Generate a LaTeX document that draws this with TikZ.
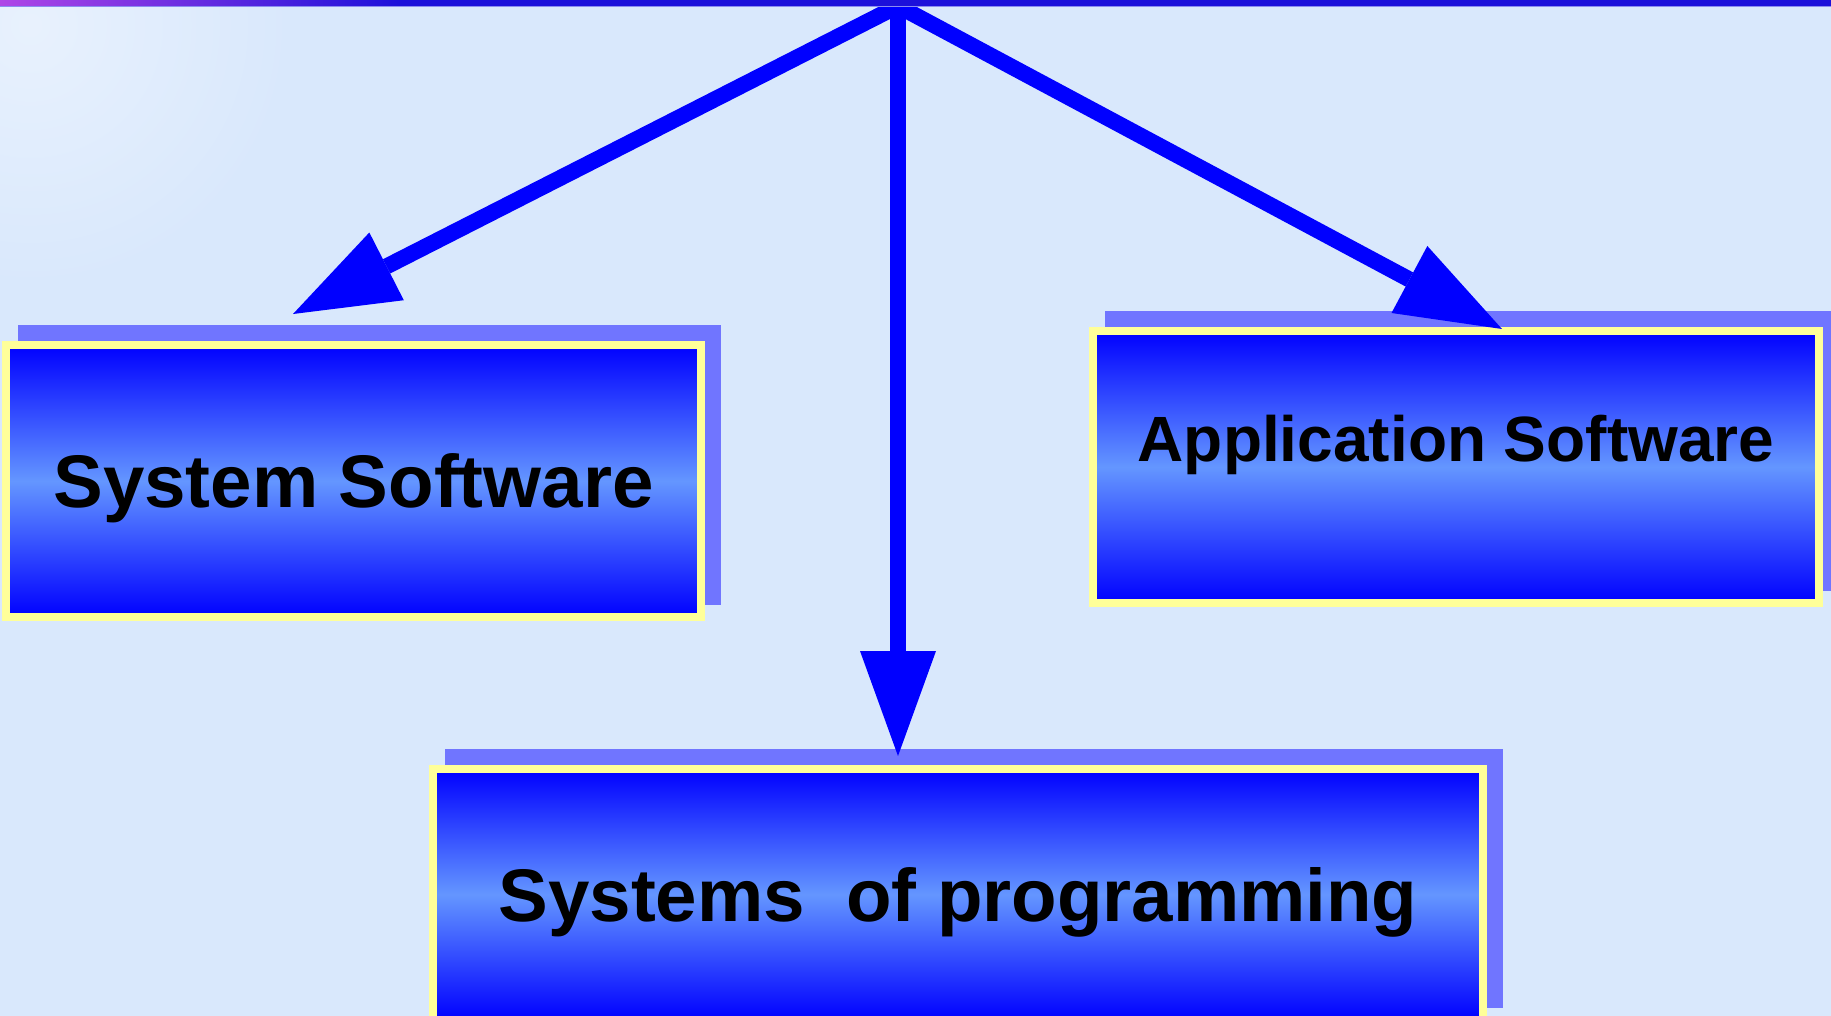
\documentclass[tikz,border=0pt]{standalone}
\usepackage{fontspec}
\setmainfont{Liberation Sans}
\usetikzlibrary{arrows.meta}
\definecolor{bgc}{RGB}{217,232,252}
\definecolor{shadc}{RGB}{112,117,255}
\definecolor{framec}{RGB}{255,255,153}
\definecolor{boxmid}{RGB}{100,150,255}
\definecolor{boxend}{RGB}{0,0,255}
\definecolor{barL}{RGB}{175,70,230}
\definecolor{barR}{RGB}{28,16,218}
\definecolor{barline}{RGB}{140,140,240}
\definecolor{arrc}{RGB}{0,0,255}
\pgfdeclarelayer{back}
\pgfdeclarelayer{shade}
\pgfsetlayers{back,shade,main}
\begin{document}
\begin{tikzpicture}[x=1pt,y=-1pt,
  box/.style={draw=framec, line width=8pt, top color=boxend, bottom color=boxend, middle color=boxmid,
    inner sep=0pt, font=\fontsize{74.5}{80}\selectfont\bfseries, text=black,
    text height=53.4pt, text depth=0pt, align=center},
  shadowbox/.style={fill=shadc},
  conn/.style={draw=arrc, line width=16pt, -{Triangle[length=105pt,width=76pt,line width=0pt]}}
]
\path[use as bounding box] (0,0) rectangle (1831,1016);
\clip (0,0) rectangle (1831,1016);

\begin{pgfonlayer}{back}
  \fill[bgc] (0,0) rectangle (1831,1016);
  \shade[inner color=white!40!bgc, outer color=bgc] (30,25) circle (260pt);
\end{pgfonlayer}

% boxes
\node[box, minimum width=695pt, minimum height=272pt] (sys) at (353.5,481) {System Software};
\node[box, minimum width=726pt, minimum height=272pt,
      font=\fontsize{64}{70}\selectfont\bfseries, text height=45.8pt, text depth=56pt]
      (app) at (1456,467) {Application Software};
\node[box, minimum width=1050pt, minimum height=251pt] (prog) at (958,894.5) {Systems\ \ of programming};

% shadows behind the boxes
\begin{pgfonlayer}{shade}
  \foreach \n in {sys,app,prog}
    \fill[shadowbox] ([shift={(16pt,16pt)}]\n.south west) rectangle ([shift={(16pt,16pt)}]\n.north east);
\end{pgfonlayer}

% connectors
\coordinate (apex) at (898,6);
\coordinate (tipL) at (293,314);
\coordinate (tipR) at (1502,329);
\coordinate (tipM) at (898,756);
\draw[conn] (apex) -- (tipL);
\draw[conn] (apex) -- (tipR);
\draw[conn] (apex) -- (tipM);

% top bar
\shade[left color=barL, right color=barR] (0,0) rectangle (400,6);
\fill[barR] (400,0) rectangle (1831,6);
\fill[barline] (0,6) rectangle (1831,7.5);
\end{tikzpicture}
\end{document}
